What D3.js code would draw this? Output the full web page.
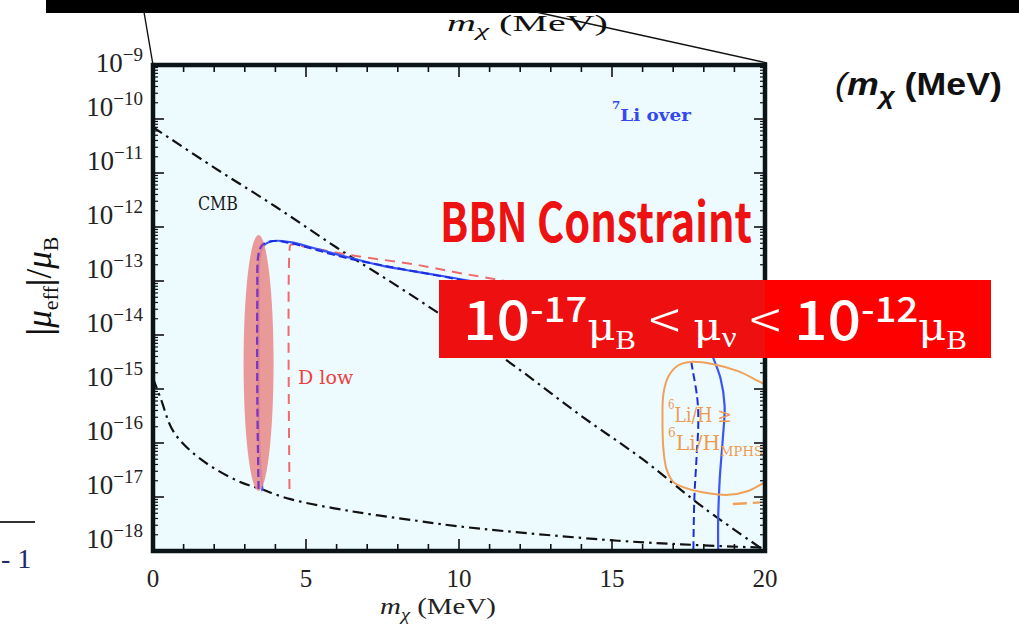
<!DOCTYPE html>
<html>
<head>
<meta charset="utf-8">
<script src="https://cdn.jsdelivr.net/npm/d3@7/dist/d3.min.js"></script>
<style>
  html, body { margin: 0; padding: 0; background: #ffffff; }
  svg { display: block; }
</style>
</head>
<body>
<svg id="fig" width="1019" height="633"></svg>
<script>
// ---------- axes ----------
const massDomain = [0, 20];                    // m_chi (MeV)
const muDomain = [1e-18, 1e-9];                // |mu_eff| / mu_B
const massMajorTicks = [0, 5, 10, 15, 20];
const massMinorTicks = [1, 2, 3, 4, 6, 7, 8, 9, 11, 12, 13, 14, 16, 17, 18, 19];
const muExponents = [-9, -10, -11, -12, -13, -14, -15, -16, -17, -18];
const decadeMantissas = [2, 3, 4, 5, 6, 7, 8, 9];

// ---------- curves: [m_chi (MeV), log10(|mu_eff|/mu_B)] ----------
const cmbUpper = [[0, -10.15], [2, -10.9], [4, -11.62], [6, -12.38], [8, -13.1], [10, -13.85],
                  [12, -14.65], [14, -15.5], [16, -16.3], [18, -17.2], [20, -18.0]];
const cmbLower = [[0, -14.8], [0.26, -15.19], [0.68, -15.8], [1.56, -16.3], [2.76, -16.7],
                  [3.51, -16.85], [4.49, -17.04], [6.44, -17.26], [8.62, -17.44], [10.24, -17.56],
                  [15.2, -17.81], [17.8, -17.89], [20, -17.94]];
const li7OverSolid = [[3.58, -16.89], [3.48, -16.11], [3.45, -15.19], [3.45, -14.26], [3.45, -13.33],
                      [3.48, -12.63], [3.61, -12.35], [3.93, -12.26], [4.49, -12.28], [5.37, -12.41],
                      [6.44, -12.57], [7.51, -12.72], [8.62, -12.83], [9.69, -12.93], [10.99, -13.06],
                      [14.57, -13.33], [17.5, -13.67], [18.08, -14.07], [18.3, -14.41], [18.55, -14.81],
                      [18.68, -15.31], [18.62, -15.93], [18.52, -16.67], [18.47, -17.41], [18.47, -18.0]];
const li7OverDashed = [[3.45, -16.85], [3.41, -15.19], [3.41, -13.33], [3.45, -12.5], [3.58, -12.33],
                       [3.93, -12.26], [4.49, -12.3], [6.44, -12.59], [9.69, -12.94], [10.99, -13.09],
                       [14.57, -13.43], [17.17, -13.89], [17.5, -14.26], [17.63, -14.63], [17.79, -15.19],
                       [17.82, -15.65], [17.76, -16.3], [17.69, -17.04], [17.66, -18.0]];
const dLow = [[4.46, -16.85], [4.46, -12.45], [4.5, -12.33], [4.81, -12.35], [6.44, -12.52], [8.62, -12.7],
              [10.0, -12.85], [11.3, -12.98], [20, -13.9]];
const li6Contour = [[20.2, -16.7], [19.97, -16.74], [19.45, -16.89], [18.8, -16.96], [18.15, -16.93],
                    [17.5, -16.85], [17.0, -16.72], [16.78, -16.48], [16.68, -16.11], [16.65, -15.56],
                    [16.68, -15.09], [16.85, -14.76], [17.17, -14.56], [17.56, -14.5], [18.31, -14.54],
                    [19.12, -14.67], [19.77, -14.85], [20.2, -14.98]];
const li6Tail = [[18.95, -17.13], [19.85, -17.1]];

// highlighted band around the 7Li boundary: centre mass, half-width (MeV), log10 limits
const bandMass = 3.45;
const bandHalfWidth = 0.49;
const bandLog = [-12.15, -16.89];

// ---------- layout ----------
const svg = d3.select('#fig');
const plot = { left: 153, right: 765, top: 65, bottom: 551 };
const x = d3.scaleLinear().domain(massDomain).range([plot.left, plot.right]);
const y = d3.scaleLog().domain(muDomain).range([plot.bottom, plot.top]);
const pt = d => [x(d[0]), y(Math.pow(10, d[1]))];
const line = d3.line().x(d => pt(d)[0]).y(d => pt(d)[1]).curve(d3.curveCatmullRom.alpha(0.5));

const serif = "'Liberation Serif', 'DejaVu Serif', serif";
const serif2 = "'DejaVu Serif', 'Liberation Serif', serif";
const jpSans = "'Noto Sans CJK JP', 'Noto Sans', sans-serif";
const sans = "'Liberation Sans', Arial, sans-serif";

// squeeze / stretch a text element horizontally so it spans [x0, x0 + width]
function fitText(t, x0, baseline, width) {
  t.attr('x', 0).attr('y', 0);
  const bb = t.node().getBBox();
  const sx = width / bb.width;
  t.attr('transform', `translate(${x0 - bb.x * sx},${baseline}) scale(${sx},1)`);
}

const defs = svg.append('defs');
defs.append('clipPath').attr('id', 'plotClip')
  .append('rect').attr('x', plot.left).attr('y', plot.top)
  .attr('width', plot.right - plot.left).attr('height', plot.bottom - plot.top);

const bandCx = x(bandMass);
const bandTop = y(Math.pow(10, bandLog[0]));
const bandBot = y(Math.pow(10, bandLog[1]));
const bandRx = x(bandMass + bandHalfWidth) - bandCx;
defs.append('clipPath').attr('id', 'bandClip')
  .append('ellipse').attr('cx', bandCx).attr('cy', (bandTop + bandBot) / 2)
  .attr('rx', bandRx).attr('ry', (bandBot - bandTop) / 2);

// plot background
svg.append('rect').attr('x', plot.left).attr('y', plot.top)
  .attr('width', plot.right - plot.left).attr('height', plot.bottom - plot.top)
  .attr('fill', '#eefbfe');

const g = svg.append('g').attr('clip-path', 'url(#plotClip)');

// CMB bounds
[cmbUpper, cmbLower].forEach(s => {
  g.append('path').datum(s).attr('d', line).attr('fill', 'none')
    .attr('stroke', '#111').attr('stroke-width', 2.2)
    .attr('stroke-dasharray', '11,5,2.5,5');
});

// D low
g.append('path').datum(dLow).attr('d', line).attr('fill', 'none')
  .attr('stroke', '#f06a6a').attr('stroke-width', 2).attr('stroke-dasharray', '10,7');

// 7Li over
g.append('path').datum(li7OverSolid).attr('d', line).attr('fill', 'none')
  .attr('stroke', '#3a55f5').attr('stroke-width', 2.2);
g.append('path').datum(li7OverDashed).attr('d', line).attr('fill', 'none')
  .attr('stroke', '#1c2de0').attr('stroke-width', 2).attr('stroke-dasharray', '8,4');

// 6Li/H contour
g.append('path').datum(li6Contour).attr('d', line).attr('fill', 'none')
  .attr('stroke', '#f0a058').attr('stroke-width', 2);
g.append('path').datum(li6Tail).attr('d', line).attr('fill', 'none')
  .attr('stroke', '#f0a058').attr('stroke-width', 2.4).attr('stroke-dasharray', '14,6');

// highlighted band
g.append('ellipse').attr('cx', bandCx).attr('cy', (bandTop + bandBot) / 2)
  .attr('rx', bandRx).attr('ry', (bandBot - bandTop) / 2)
  .attr('fill', '#e98e8e').attr('opacity', 0.9);
const inBand = g.append('g').attr('clip-path', 'url(#bandClip)');
inBand.append('path').datum(li7OverDashed).attr('d', line).attr('fill', 'none')
  .attr('stroke', '#7a34c6').attr('stroke-width', 2.2).attr('stroke-dasharray', '8,4');

// curve labels
const cmbLbl = g.append('text').attr('font-family', serif2).attr('font-size', 18)
  .attr('fill', '#1a1a1a').text('CMB');
fitText(cmbLbl, 198, 210, 40);

const dLbl = g.append('text').attr('font-family', serif2).attr('font-size', 19)
  .attr('fill', '#ee4040').text('D low');
fitText(dLbl, 298, 384, 56);

const li7Lbl = g.append('text').attr('font-family', serif2).attr('font-size', 17)
  .attr('font-weight', 'bold').attr('fill', '#3348ee');
li7Lbl.append('tspan').attr('font-size', 11).attr('dy', -12).text('7');
li7Lbl.append('tspan').attr('dy', 12).text('Li over');
fitText(li7Lbl, 612, 121, 80);

const li6a = g.append('text').attr('font-family', serif2).attr('font-size', 20).attr('fill', '#ee9a50');
li6a.append('tspan').attr('font-size', 12).attr('dy', -13).text('6');
li6a.append('tspan').attr('dy', 13).text('Li/H ≥');
fitText(li6a, 668, 422, 64);
const li6b = g.append('text').attr('font-family', serif2).attr('font-size', 20).attr('fill', '#ee9a50');
li6b.append('tspan').attr('font-size', 12).attr('dy', -13).text('6');
li6b.append('tspan').attr('dy', 13).text('Li/H');
li6b.append('tspan').attr('font-size', 13).attr('dy', 6).text('MPHS');
fitText(li6b, 668, 450, 95);

// ---------- axes ----------
const axes = svg.append('g');
const tickLine = (x1, y1, x2, y2, w) => axes.append('line')
  .attr('x1', x1).attr('y1', y1).attr('x2', x2).attr('y2', y2)
  .attr('stroke', '#111').attr('stroke-width', w);

// mass ticks (bottom + top, inward)
massMajorTicks.concat(massMinorTicks).forEach(m => {
  const major = massMajorTicks.includes(m);
  const len = major ? 12 : 7;
  tickLine(x(m), plot.bottom, x(m), plot.bottom - len, 1.6);
  tickLine(x(m), plot.top, x(m), plot.top + len, 1.6);
});

// mu ticks (left + right, inward, log minors)
muExponents.forEach(e => {
  const v = Math.pow(10, e);
  tickLine(plot.left, y(v), plot.left + 11, y(v), 1.6);
  tickLine(plot.right, y(v), plot.right - 11, y(v), 1.6);
  if (e > -18) {
    decadeMantissas.forEach(k => {
      const vm = k * Math.pow(10, e - 1);
      tickLine(plot.left, y(vm), plot.left + 5, y(vm), 1.2);
      tickLine(plot.right, y(vm), plot.right - 5, y(vm), 1.2);
    });
  }
});

// frame
svg.append('rect').attr('x', plot.left).attr('y', plot.top)
  .attr('width', plot.right - plot.left).attr('height', plot.bottom - plot.top)
  .attr('fill', 'none').attr('stroke', '#0b1518').attr('stroke-width', 4.5);

// mass tick labels
svg.append('g').selectAll('text').data(massMajorTicks).join('text')
  .attr('x', d => x(d)).attr('y', 587).attr('text-anchor', 'middle')
  .attr('font-family', serif).attr('font-size', 25).attr('fill', '#222')
  .text(d => d);

// mu tick labels: 10^e (the top one is nudged down to stay beside the frame)
muExponents.forEach((e, i) => {
  const base = y(Math.pow(10, e)) - 3 + (i === 0 ? 10 : 0);
  const t = svg.append('text').attr('x', 143).attr('y', base).attr('text-anchor', 'end')
    .attr('font-family', serif).attr('font-size', 27).attr('fill', '#222');
  t.append('tspan').text('10');
  t.append('tspan').attr('font-size', 19).attr('dy', -11).text('−' + Math.abs(e));
});

// axis titles
const xTitle = svg.append('text').attr('font-family', serif).attr('font-size', 24).attr('fill', '#222');
xTitle.append('tspan').attr('font-style', 'italic').text('m');
xTitle.append('tspan').attr('font-style', 'italic').attr('font-size', 17).attr('dy', 6).text('χ');
xTitle.append('tspan').attr('dy', -6).text('  (MeV)');
fitText(xTitle, 380, 614, 116);

const yTitle = svg.append('text').attr('font-family', serif).attr('font-size', 35).attr('fill', '#111')
  .attr('text-anchor', 'middle')
  .attr('transform', 'translate(51,286) rotate(-90)');
yTitle.append('tspan').attr('font-weight', 'bold').text('|');
yTitle.append('tspan').attr('font-style', 'italic').text('μ');
yTitle.append('tspan').attr('font-size', 22).attr('dy', 7).text('eff');
yTitle.append('tspan').attr('dy', -7).attr('font-weight', 'bold').text('|');
yTitle.append('tspan').text('/');
yTitle.append('tspan').attr('font-style', 'italic').text('μ');
yTitle.append('tspan').attr('font-size', 22).attr('dy', 7).text('B');

// ---------- annotations ----------
const bbn = svg.append('text').attr('font-family', jpSans).attr('font-weight', 700)
  .attr('font-size', 54).attr('fill', '#ee1111').text('BBN Constraint');
fitText(bbn, 440, 242, 312);

// range box
svg.append('rect').attr('x', 439).attr('y', 280).attr('width', 552).attr('height', 78).attr('fill', '#ff0000');
svg.append('rect').attr('x', 439).attr('y', 280).attr('width', plot.right - 439).attr('height', 78).attr('fill', '#ee1010');
const rng = svg.append('text').attr('fill', '#ffffff').attr('font-family', jpSans)
  .attr('font-weight', 500).attr('font-size', 54);
rng.append('tspan').text('10');
rng.append('tspan').attr('font-size', 35).attr('dy', -18).text('-17');
rng.append('tspan').attr('font-family', serif2).attr('font-size', 40).attr('dy', 18).text('μ');
rng.append('tspan').attr('font-family', serif).attr('font-size', 28).attr('dy', 9).text('B');
rng.append('tspan').attr('font-weight', 300).attr('dy', -9).text(' < ');
rng.append('tspan').attr('font-family', serif2).attr('font-size', 40).text('μ');
rng.append('tspan').attr('font-family', serif).attr('font-size', 30).attr('dy', 7).text('ν');
rng.append('tspan').attr('font-weight', 300).attr('dy', -7).text(' < ');
rng.append('tspan').text('10');
rng.append('tspan').attr('font-size', 35).attr('dy', -18).text('-12');
rng.append('tspan').attr('font-family', serif2).attr('font-size', 40).attr('dy', 18).text('μ');
rng.append('tspan').attr('font-family', serif).attr('font-size', 28).attr('dy', 9).text('B');
fitText(rng, 463, 340, 504);

// top strip with the magnified axis title beneath it, and the zoom callout lines
svg.append('rect').attr('x', 46).attr('y', 0).attr('width', 1019 - 46).attr('height', 13).attr('fill', '#000');
const topTitle = svg.append('text').attr('font-family', serif).attr('font-size', 23).attr('fill', '#111');
topTitle.append('tspan').attr('font-style', 'italic').text('m');
topTitle.append('tspan').attr('font-style', 'italic').attr('font-size', 17).attr('dy', 5).text('χ');
topTitle.append('tspan').attr('dy', -5).text('  (MeV)');
fitText(topTitle, 447, 31, 161);
svg.append('line').attr('x1', 144).attr('y1', 12).attr('x2', plot.left).attr('y2', plot.top)
  .attr('stroke', '#111').attr('stroke-width', 1.4);
svg.append('line').attr('x1', 536).attr('y1', 12).attr('x2', plot.right + 2).attr('y2', plot.top - 2)
  .attr('stroke', '#111').attr('stroke-width', 1.4);

// right-hand heading
const head = svg.append('text').attr('font-family', sans).attr('font-weight', 'bold')
  .attr('font-size', 31).attr('fill', '#111');
head.append('tspan').attr('font-style', 'italic').attr('font-weight', 'normal').text('(');
head.append('tspan').attr('font-style', 'italic').text('m');
head.append('tspan').attr('font-style', 'italic').attr('font-size', 24).attr('dy', 9).text('χ');
head.append('tspan').attr('dy', -9).text(' (MeV)');
fitText(head, 835, 95, 167);

// fragment at the lower left
svg.append('line').attr('x1', 0).attr('y1', 522).attr('x2', 35).attr('y2', 522)
  .attr('stroke', '#333').attr('stroke-width', 2);
svg.append('text').attr('x', 1).attr('y', 568).attr('font-family', serif).attr('font-size', 28)
  .attr('fill', '#1d2c66').text('- 1');
</script>
</body>
</html>
